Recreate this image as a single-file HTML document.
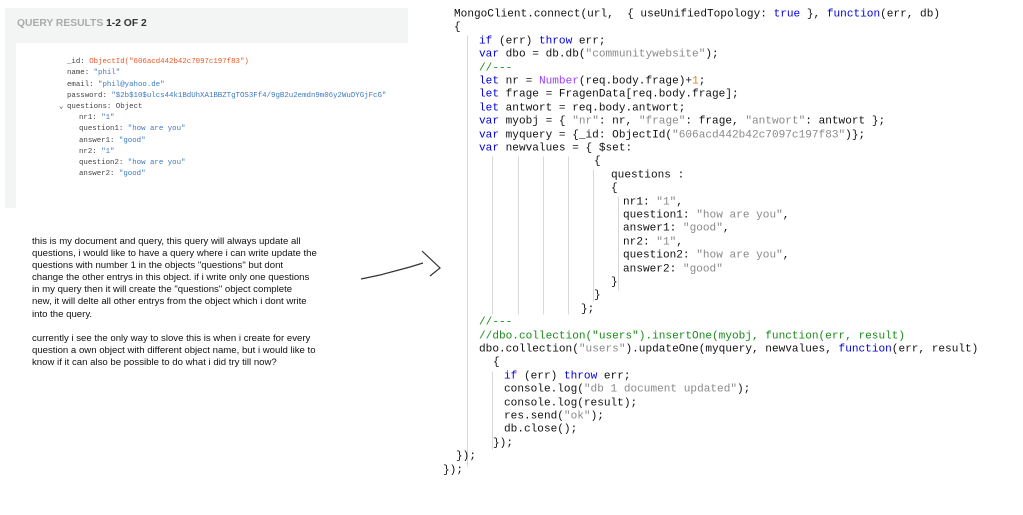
<!DOCTYPE html>
<html><head><meta charset="utf-8"><style>
body{margin:0;width:1023px;height:515px;background:#fff;position:relative;overflow:hidden;font-family:"Liberation Sans",sans-serif}
.a{position:absolute;white-space:pre}
.c{font-family:"Liberation Mono",monospace;font-size:11.1px;line-height:13.4px;color:#111;transform:translateY(1.5px)}
.k{color:#0000e0}.s{color:#8a8a8a}.g{color:#1a8a1a}.p{color:#9a3cff}.o{color:#f08020}
.v{position:absolute;width:1px;background:#d8d8d8;transform:translateY(1.5px)}
.d{font-family:"Liberation Mono",monospace;font-size:7.4px;line-height:11.3px;color:#444}
.d .b{color:#3b78c0}.d .r{color:#ee5522}
.t{font-size:9.6px;line-height:12.1px;color:#111;left:32px}
</style></head><body>
<div class="a" style="left:5px;top:8px;width:403px;height:200px;background:#f3f4f4"></div>
<div class="a" style="left:16px;top:43px;width:392px;height:165px;background:#fff"></div>
<div class="a" style="left:17px;top:18px;font-size:10.3px;font-weight:bold;color:#aaa">QUERY RESULTS <span style="color:#333">1-2 OF 2</span></div>
<div class="a d" style="left:67px;top:57px">_id: <span class="r">ObjectId("606acd442b42c7097c197f83")</span>
name: <span class="b">"phil"</span>
email: <span class="b">"phil@yahoo.de"</span>
password: <span class="b">"$2b$10$ulcs44k1BdUhXA1BBZTgTOS3Ff4/9gB2u2emdn9m06y2WuDYGjFcG"</span>
questions: Object</div>
<div class="a d" style="left:59px;top:102px">⌄</div>
<div class="a d" style="left:79px;top:113px">nr1: <span class="b">"1"</span>
question1: <span class="b">"how are you"</span>
answer1: <span class="b">"good"</span>
nr2: <span class="b">"1"</span>
question2: <span class="b">"how are you"</span>
answer2: <span class="b">"good"</span></div>

<div class="a t" style="top:236px">this is my document and query, this query will always update all
questions, i would like to have a query where i can write update the
questions with number 1 in the objects "questions" but dont
change the other entrys in this object. if i write only one questions
in my query then it will create the "questions" object complete
new, it will delte all other entrys from the object which i dont write
into the query.</div>
<div class="a t" style="top:333px">currently i see the only way to slove this is when i create for every
question a own object with different object name, but i would like to
know if it can also be possible to do what i did try till now?</div>

<svg class="a" style="left:0;top:0" width="1023" height="515"><path d="M361 279 L380 275 L395 271 L410 267 L423 263" stroke="#333" stroke-width="1.2" fill="none"/><path d="M422 251 L440 268 L430 276" stroke="#333" stroke-width="1.2" fill="none"/></svg>

<div class="v" style="left:467px;top:34px;height:431px"></div>
<div class="v" style="left:492px;top:155px;height:158px"></div>
<div class="v" style="left:518px;top:155px;height:158px"></div>
<div class="v" style="left:543px;top:155px;height:158px"></div>
<div class="v" style="left:568px;top:155px;height:158px"></div>
<div class="v" style="left:593px;top:168px;height:132px"></div>
<div class="v" style="left:618px;top:195px;height:94px"></div>
<div class="v" style="left:492px;top:370px;height:78px"></div>

<div class="a c" style="left:454px;top:7px">MongoClient.connect(url,  { useUnifiedTopology: <span class="k">true</span> }, <span class="k">function</span>(err, db)</div>
<div class="a c" style="left:454px;top:20.4px">{</div>
<div class="a c" style="left:479px;top:33.8px"><span class="k">if</span> (err) <span class="k">throw</span> err;
<span class="k">var</span> dbo = db.db(<span class="s">"communitywebsite"</span>);
<span class="g">//---</span>
<span class="k">let</span> nr = <span class="p">Number</span>(req.body.frage)+<span class="o">1</span>;
<span class="k">let</span> frage = FragenData[req.body.frage];
<span class="k">let</span> antwort = req.body.antwort;
<span class="k">var</span> myobj = { <span class="s">"nr"</span>: nr, <span class="s">"frage"</span>: frage, <span class="s">"antwort"</span>: antwort };
<span class="k">var</span> myquery = {_id: ObjectId(<span class="s">"606acd442b42c7097c197f83"</span>)};
<span class="k">var</span> newvalues = { $set:</div>
<div class="a c" style="left:594px;top:154.4px">{</div>
<div class="a c" style="left:611px;top:167.8px">questions :
{</div>
<div class="a c" style="left:623px;top:194.6px">nr1: <span class="s">"1"</span>,
question1: <span class="s">"how are you"</span>,
answer1: <span class="s">"good"</span>,
nr2: <span class="s">"1"</span>,
question2: <span class="s">"how are you"</span>,
answer2: <span class="s">"good"</span></div>
<div class="a c" style="left:611px;top:275px">}</div>
<div class="a c" style="left:594px;top:288.4px">}</div>
<div class="a c" style="left:581px;top:301.8px">};</div>
<div class="a c" style="left:479px;top:315.2px"><span class="g">//---</span>
<span class="g">//dbo.collection("users").insertOne(myobj, function(err, result)</span>
dbo.collection(<span class="s">"users"</span>).updateOne(myquery, newvalues, <span class="k">function</span>(err, result)</div>
<div class="a c" style="left:493px;top:355.4px">{</div>
<div class="a c" style="left:504px;top:368.8px"><span class="k">if</span> (err) <span class="k">throw</span> err;
console.log(<span class="s">"db 1 document updated"</span>);
console.log(result);
res.send(<span class="s">"ok"</span>);
db.close();</div>
<div class="a c" style="left:493px;top:435.8px">});</div>
<div class="a c" style="left:456px;top:449.2px">});</div>
<div class="a c" style="left:443px;top:462.6px">});</div>
</body></html>
